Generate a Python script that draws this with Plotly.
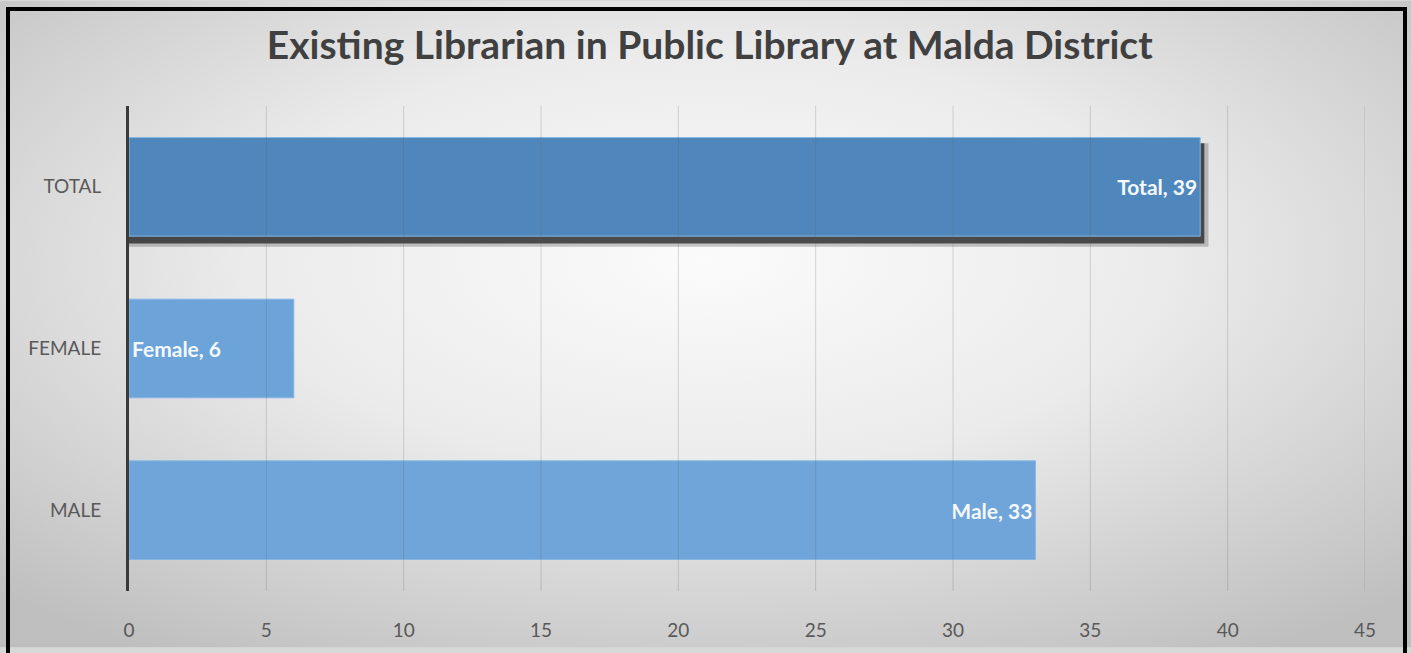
import plotly.graph_objects as go
import urllib.parse

categories = ["MALE", "FEMALE", "TOTAL"]
values = [33, 6, 39]
labels = ["Male, 33", "Female, 6", "Total, 39"]
bar_colors = ["#6fa5d9", "#6ca3d8", "#4f87bd"]
x_ticks = [0, 5, 10, 15, 20, 25, 30, 35, 40, 45]

W, H = 1411, 653
L, R, T, B = 129, 46, 106, 57
pw, ph = W - L - R, H - T - B
FONT = "Lato, Open Sans, sans-serif"

svg = ('<svg xmlns="http://www.w3.org/2000/svg" width="1411" height="653" preserveAspectRatio="none">'
       '<defs><radialGradient id="g" cx="50%" cy="40%" r="72%">'
       '<stop offset="0%" stop-color="#fbfbfb"/><stop offset="45%" stop-color="#ebebeb"/>'
       '<stop offset="100%" stop-color="#bfbfbf"/></radialGradient></defs>'
       '<rect width="1411" height="653" fill="url(#g)"/></svg>')
bg_src = "data:image/svg+xml;charset=utf-8," + urllib.parse.quote(svg)

fig = go.Figure()

# soft drop shadow for TOTAL bar (two layers)
fig.add_trace(go.Bar(
    y=[categories[2]], x=[values[2] + 0.3], orientation="h",
    width=0.64, offset=-0.37, marker=dict(color="rgba(40,40,40,0.25)", line=dict(width=0)),
    hoverinfo="skip", showlegend=False))
fig.add_trace(go.Bar(
    y=[categories[2]], x=[values[2] + 0.15], orientation="h",
    width=0.62, offset=-0.35, marker=dict(color="rgba(10,10,10,0.65)", line=dict(width=0)),
    hoverinfo="skip", showlegend=False))

anchors = ["end", "start", "end"]
for cat, v, lab, col, anc in zip(categories, values, labels, bar_colors, anchors):
    fig.add_trace(go.Bar(
        y=[cat], x=[v], orientation="h", width=0.61, offset=-0.305,
        marker=dict(color=col, line=dict(color="#86b6e4", width=1)),
        text=[lab], textposition="inside", insidetextanchor=anc,
        textfont=dict(family=FONT, size=21, color="#f4f9ff", weight="bold"),
        showlegend=False))

grid_shapes = [dict(type="line", xref="x", yref="paper", x0=t, x1=t, y0=0, y1=1,
                    line=dict(color="rgba(90,90,90,0.22)", width=1), layer="above")
               for t in x_ticks if t > 0]

fig.update_layout(
    width=W, height=H,
    margin=dict(l=L, r=R, t=T, b=B, pad=0),
    paper_bgcolor="#d8d8d8", plot_bgcolor="rgba(0,0,0,0)",
    barmode="overlay",
    title=dict(text="<b>Existing Librarian in Public Library at Malda District</b>",
               x=0.503, xanchor="center", y=0.93, yanchor="middle",
               font=dict(family=FONT, size=39, color="#404040")),
    xaxis=dict(range=[0, 45], tickvals=x_ticks, showgrid=False,
               zeroline=False, showline=False, ticks="",
               tickfont=dict(family=FONT, size=19, color="#595959"),
               ticklabelstandoff=26, fixedrange=True),
    yaxis=dict(categoryorder="array", categoryarray=categories, range=[-0.5, 2.5],
               showgrid=False, showline=True, linecolor="#3a3a3a", linewidth=3, ticks="",
               tickfont=dict(family=FONT, size=19, color="#595959"),
               ticklabelstandoff=21, fixedrange=True, layer="above traces"),
    images=[dict(source=bg_src, xref="paper", yref="paper",
                 x=-L / pw, y=1 + T / ph, sizex=W / pw, sizey=H / ph,
                 xanchor="left", yanchor="top", sizing="stretch", layer="below")],
    shapes=grid_shapes + [dict(type="rect", xref="paper", yref="paper",
                 x0=(8 - L) / pw, x1=(1405 - L) / pw,
                 y0=1 + (T - 8) / ph, y1=-(B + 20) / ph,
                 line=dict(color="#000000", width=4), fillcolor="rgba(0,0,0,0)", layer="above")],
)

fig.write_html("out.html", config={"displayModeBar": False},
               post_script=("document.body.style.margin='0';"
                            "document.body.style.overflow='hidden';"
                            "document.body.style.background='#c6c6c6';"
                            "document.documentElement.style.background='#c6c6c6';"))
